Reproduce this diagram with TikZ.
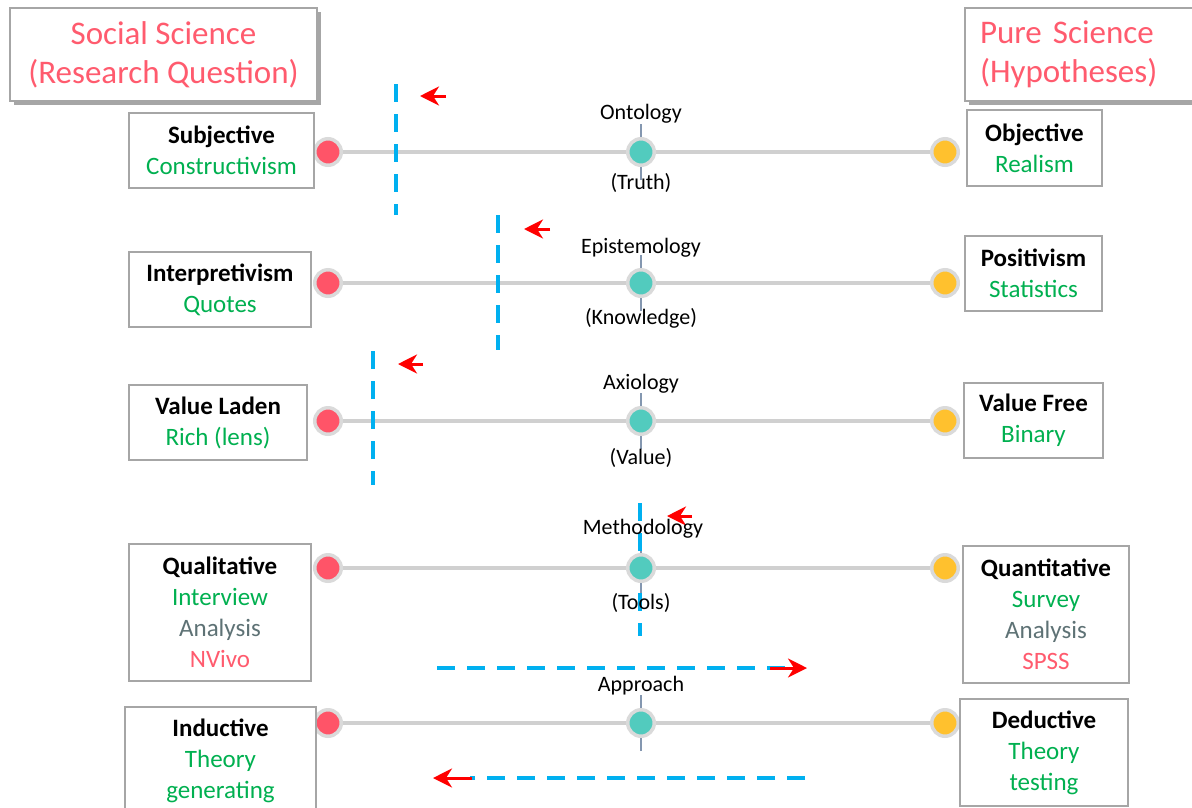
\documentclass[tikz,border=0pt]{standalone}
\usepackage{fontspec}
\setmainfont{Carlito}
\usetikzlibrary{arrows.meta,shadows}

\definecolor{pinkred}{HTML}{FF5B6E}
\definecolor{leafgreen}{HTML}{00B050}
\definecolor{slategrey}{HTML}{5E7275}
\definecolor{boxline}{HTML}{A6A6A6}
\definecolor{railgrey}{HTML}{D0D0D0}
\definecolor{ringgrey}{HTML}{DADADA}
\definecolor{tickblue}{HTML}{8497B0}
\definecolor{dashblue}{HTML}{00B0F0}
\definecolor{dotred}{HTML}{FF5468}
\definecolor{dotteal}{HTML}{52CBBE}
\definecolor{dotyellow}{HTML}{FFC12E}

\newcommand{\hd}[1]{\textbf{#1}}
\newcommand{\gr}[1]{\textcolor{leafgreen}{#1}}
\newcommand{\sg}[1]{\textcolor{slategrey}{#1}}
\newcommand{\pk}[1]{\textcolor{pinkred}{#1}}

\tikzset{
  titlebox/.style={draw=boxline, line width=2pt, fill=white,
    text=pinkred, font=\fontsize{33}{39}\selectfont, inner sep=0pt,
    drop shadow={shadow xshift=4pt, shadow yshift=-4pt, fill=black, opacity=.35}},
  sidebox/.style={draw=boxline, line width=2pt, fill=white, align=center,
    font=\fontsize{25}{31}\selectfont, inner sep=2pt},
  rail/.style={draw=railgrey, line width=4pt},
  tick/.style={draw=tickblue, line width=1.3pt},
  dot/.style={circle, draw=ringgrey, line width=3.5pt, minimum size=26.5pt,
    inner sep=0pt, fill=#1},
  axislabel/.style={font=\fontsize{22}{26}\selectfont, inner sep=0pt},
  shiftline/.style={draw=dashblue, line width=4pt, dash pattern=on 18pt off 12pt},
  shiftarrow/.style={draw=red, line width=3pt,
    -{Stealth[length=19pt, width=19pt, inset=6pt]}},
}

\begin{document}
\begin{tikzpicture}[x=1pt, y=-1pt]
\useasboundingbox (0,0) rectangle (1192,807);

% ---------- paradigm headers ----------
\node[titlebox, minimum width=307pt, minimum height=93pt, align=center]
  (social) at (163.5,54.5) {Social Science\\(Research Question)};
\begin{scope}
\clip (0,0) rectangle (1192,807);
\node[titlebox, anchor=west, text width=236pt, inner xsep=15pt,
  minimum height=93pt, align=left]
  (pure) at (964,54.5) {Pure Science\\(Hypotheses)};
\end{scope}

% ---------- rails ----------
\foreach \r/\y in {1/152, 2/283, 3/421, 4/568, 5/723} {
  \coordinate (L\r) at (328,\y);
  \coordinate (C\r) at (641,\y);
  \coordinate (R\r) at (945,\y);
  \draw[rail] (L\r) -- (R\r);
  \draw[tick] ([yshift=-28pt]C\r) -- ([yshift=28pt]C\r);
}

% ---------- shift markers ----------
\coordinate (v1a) at (396,84);  \coordinate (v1b) at (396,215);
\coordinate (v2a) at (498,215); \coordinate (v2b) at (498,350);
\coordinate (v3a) at (373,351); \coordinate (v3b) at (373,485);
\coordinate (v4a) at (640,503); \coordinate (v4b) at (640,636);
\coordinate (h1a) at (437,668); \coordinate (h1b) at (800,668);
\coordinate (h2a) at (805,778); \coordinate (h2b) at (470,778);
\draw[shiftline] (v1a) -- (v1b);
\draw[shiftline] (v2a) -- (v2b);
\draw[shiftline] (v3a) -- (v3b);
\draw[shiftline] (v4a) -- (v4b);
\draw[shiftline] (h1a) -- (h1b);
\draw[shiftline] (h2a) -- (h2b);

\coordinate (a1t) at (446,96);  \coordinate (a1h) at (420,96);
\coordinate (a2t) at (550,229); \coordinate (a2h) at (524,229);
\coordinate (a3t) at (423,364); \coordinate (a3h) at (398,364);
\coordinate (a4t) at (692,516); \coordinate (a4h) at (667,516);
\coordinate (a5t) at (770,668); \coordinate (a5h) at (807,668);
\coordinate (a6t) at (472,778); \coordinate (a6h) at (433,778);
\foreach \k in {1,...,6} \draw[shiftarrow] (a\k t) -- (a\k h);

% ---------- dots ----------
\foreach \r in {1,...,5} {
  \node[dot=dotred]    (dl\r) at (L\r) {};
  \node[dot=dotteal]   (dc\r) at (C\r) {};
  \node[dot=dotyellow] (dr\r) at (R\r) {};
}

% ---------- axis labels ----------
\node[axislabel] (ont)  at (641,114) {Ontology};
\node[axislabel] (ontb) at (641,183) {(Truth)};
\node[axislabel] (epi)  at (641,248) {Epistemology};
\node[axislabel] (epib) at (641,318) {(Knowledge)};
\node[axislabel] (axi)  at (641,384) {Axiology};
\node[axislabel] (axib) at (641,458) {(Value)};
\node[axislabel] (met)  at (643,529) {Methodology};
\node[axislabel] (metb) at (641,603) {(Tools)};
\node[axislabel] (app)  at (641,686) {Approach};

% ---------- end-point boxes ----------
\node[sidebox, minimum width=185pt, minimum height=75pt] (subj) at (221.5,150.5)
  {\hd{Subjective}\\\gr{Constructivism}};
\node[sidebox, minimum width=135pt, minimum height=76pt] (obj) at (1034.5,148)
  {\hd{Objective}\\\gr{Realism}};
\node[sidebox, minimum width=182pt, minimum height=75pt] (interp) at (220,289.5)
  {\hd{Interpretivism}\\\gr{Quotes}};
\node[sidebox, minimum width=137pt, minimum height=75pt] (posit) at (1033.5,273.5)
  {\hd{Positivism}\\\gr{Statistics}};
\node[sidebox, minimum width=178pt, minimum height=75pt] (laden) at (218,422.5)
  {\hd{Value Laden}\\\gr{Rich (lens)}};
\node[sidebox, minimum width=139pt, minimum height=75pt] (free) at (1033.5,420.5)
  {\hd{Value Free}\\\gr{Binary}};
\node[sidebox, minimum width=182pt, minimum height=137pt] (qual) at (220,612.5)
  {\hd{Qualitative}\\\gr{Interview}\\\sg{Analysis}\\\pk{NVivo}};
\node[sidebox, minimum width=166pt, minimum height=137pt] (quant) at (1046,614.5)
  {\hd{Quantitative}\\\gr{Survey}\\\sg{Analysis}\\\pk{SPSS}};
\node[sidebox, minimum width=191pt, minimum height=108pt] (induct) at (220.5,761)
  {\hd{Inductive}\\\gr{Theory}\\\gr{generating}};
\node[sidebox, minimum width=168pt, minimum height=107pt] (deduct) at (1044,752.5)
  {\hd{Deductive}\\\gr{Theory}\\\gr{testing}};
\end{tikzpicture}
\end{document}
